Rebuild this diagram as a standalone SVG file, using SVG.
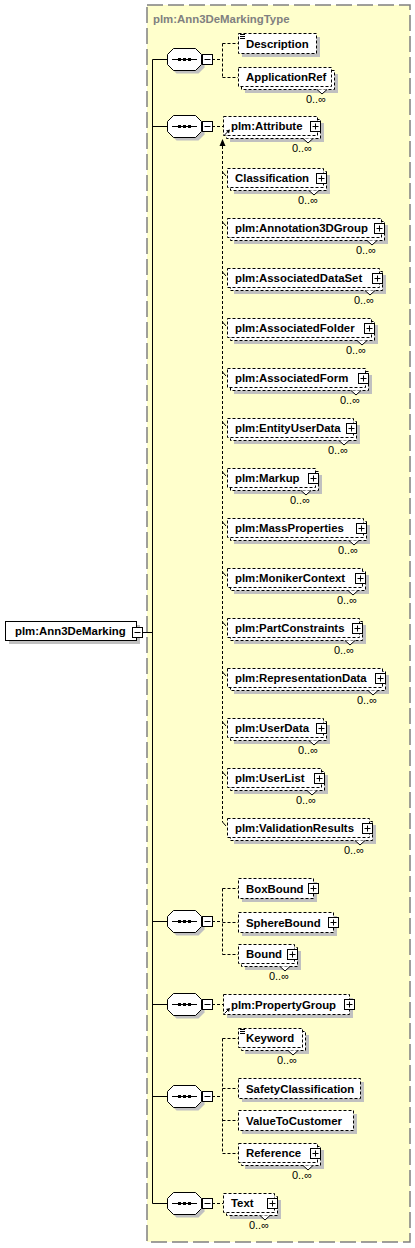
<svg xmlns="http://www.w3.org/2000/svg" xmlns:xlink="http://www.w3.org/1999/xlink" width="415" height="1248" viewBox="0 0 415 1248">
<style>
.typ{fill:#ffffcc;stroke:#808080;stroke-width:1.5;stroke-dasharray:16,5}
.tl{font-family:"Liberation Sans",Arial,sans-serif;font-weight:bold;font-size:11.4px;fill:#808080}
.sh{fill:#c0c0c0}
.bx{fill:#fff;stroke:#000;stroke-dasharray:3,2}
.rb{fill:#fff;stroke:#000}
.nt{fill:#fff;stroke:#000}
.lb{font-family:"Liberation Sans",Arial,sans-serif;font-weight:bold;font-size:11.4px;fill:#000}
.oc{font-family:"Liberation Sans",Arial,"DejaVu Sans",sans-serif;font-size:11px;fill:#000;text-anchor:end}
.ln{fill:none;stroke:#000}
.dl{fill:none;stroke:#000;stroke-dasharray:3,2}
</style>
<defs>
<g id="plus"><rect x="0.5" y="0.5" width="10" height="10" fill="#fff" stroke="#000"/><path d="M2.5 5.5H8.5M5.5 2.5V8.5" stroke="#000"/></g>
<g id="minus"><rect x="0.5" y="0.5" width="10" height="10" fill="#fff" stroke="#000"/><path d="M2.5 5.5H8.5" stroke="#000"/></g>
<g id="seq">
<path d="M9.5,-7.5 H31.5 L37.5,-1.5 V8.5 L31.5,14.5 H9.5 L3.5,8.5 V-1.5 Z" fill="#c0c0c0"/>
<path d="M6.5,-10.5 H28.5 L34.5,-4.5 V5.5 L28.5,11.5 H6.5 L0.5,5.5 V-4.5 Z" fill="#fff" stroke="#000"/>
<path d="M5,0.5 H30" stroke="#000"/>
<rect x="11" y="-1" width="3" height="3"/><rect x="16" y="-1" width="3" height="3"/><rect x="21" y="-1" width="3" height="3"/>
<use xlink:href="#minus" x="35" y="-5"/>
</g>
</defs>

<g id="type">
<rect class="typ" x="147" y="5" width="263" height="1237"/>
<text class="tl" x="153" y="23">plm:Ann3DeMarkingType</text>
</g>

<g id="connectors">
<path class="ln" d="M142,632.5 H152.5 M152.5,59.5 V1203.5 M152.5,59.5 H167 M152.5,126.5 H167 M152.5,921.5 H167 M152.5,1004.5 H167 M152.5,1096.5 H167 M152.5,1203.5 H167"/>
<path class="dl" d="M212,59.5 H222.5 M222.5,43.5 V77.5 M222.5,43.5 H238 M222.5,77.5 H238"/>
<path class="dl" d="M212,126.5 H223"/>
<path class="dl" d="M222.5,146 V822"/>
<polygon points="222.5,139 219.5,146 225.5,146"/>
<path class="ln" d="M222.5,172 L226,176 M222.5,222 L226,226 M222.5,272 L226,276 M222.5,322 L226,326 M222.5,372 L226,376 M222.5,422 L226,426 M222.5,472 L226,476 M222.5,522 L226,526 M222.5,572 L226,576 M222.5,622 L226,626 M222.5,672 L226,676 M222.5,722 L226,726 M222.5,772 L226,776 M222.5,822 L226,826"/>
<path class="dl" d="M212,921.5 H222.5 M222.5,888.5 V954.5 M222.5,888.5 H238 M222.5,922.5 H238 M222.5,954.5 H238"/>
<path class="dl" d="M212,1004.5 H223"/>
<path class="dl" d="M212,1096.5 H222.5 M222.5,1038.5 V1153.5 M222.5,1038.5 H238 M222.5,1088.5 H238 M222.5,1120.5 H238 M222.5,1153.5 H238"/>
<path class="dl" d="M212,1203.5 H223"/>
</g>

<g id="seq1"><use xlink:href="#seq" x="167" y="59"/></g>
<g id="seq2"><use xlink:href="#seq" x="167" y="126"/></g>
<g id="seq3"><use xlink:href="#seq" x="167" y="921"/></g>
<g id="seq4"><use xlink:href="#seq" x="167" y="1004"/></g>
<g id="seq5"><use xlink:href="#seq" x="167" y="1096"/></g>
<g id="seq6"><use xlink:href="#seq" x="167" y="1203"/></g>

<g id="root">
<rect class="sh" x="9" y="625" width="131" height="19"/>
<rect class="rb" x="5.5" y="621.5" width="131" height="19"/>
<text class="lb" x="15" y="635">plm:Ann3DeMarking</text>
<use xlink:href="#minus" x="132" y="627"/>
</g>

<g id="Description">
<rect class="sh" x="242" y="37" width="78" height="20"/>
<rect class="bx" x="238.5" y="33.5" width="78" height="20"/>
<path class="ln" d="M240,34.5h5M240,36.5h5M240,38.5h5"/>
<text class="lb" x="246" y="47.5">Description</text>
</g>

<g id="ApplicationRef">
<rect class="sh" x="245" y="74" width="93" height="19"/>
<rect class="bx" x="241.5" y="70.5" width="93" height="19"/>
<rect class="bx" x="238.5" y="67.5" width="93" height="19"/>
<path class="nt" d="M317,89.5 L322,94 L327,89.5"/>
<text class="lb" x="246" y="81">ApplicationRef</text>
<text class="oc" x="326" y="103">0..∞</text>
</g>

<g id="Attribute">
<rect class="sh" x="230" y="123" width="94" height="19"/>
<rect class="bx" x="226.5" y="119.5" width="94" height="19"/>
<rect class="bx" x="223.5" y="116.5" width="94" height="19"/>
<path class="nt" d="M303,138.5 L308,143 L313,138.5"/>
<text class="lb" x="231" y="130">plm:Attribute</text>
<use xlink:href="#plus" x="310" y="121"/>
<path class="ln" d="M224.5,135 L228.5,131"/><polygon points="230,129.5 226,130.5 229,133.5"/>
<text class="oc" x="312" y="152">0..∞</text>
</g>

<g id="Classification">
<rect class="sh" x="234" y="175" width="96" height="19"/>
<rect class="bx" x="230.5" y="171.5" width="96" height="19"/>
<rect class="bx" x="227.5" y="168.5" width="96" height="19"/>
<path class="nt" d="M309,190.5 L314,195 L319,190.5"/>
<text class="lb" x="235" y="182">Classification</text>
<use xlink:href="#plus" x="316" y="173"/>
<text class="oc" x="318" y="204">0..∞</text>
</g>

<g id="Annotation3DGroup">
<rect class="sh" x="234" y="225" width="154" height="19"/>
<rect class="bx" x="230.5" y="221.5" width="154" height="19"/>
<rect class="bx" x="227.5" y="218.5" width="154" height="19"/>
<path class="nt" d="M367,240.5 L372,245 L377,240.5"/>
<text class="lb" x="235" y="232">plm:Annotation3DGroup</text>
<use xlink:href="#plus" x="374" y="223"/>
<text class="oc" x="376" y="254">0..∞</text>
</g>

<g id="AssociatedDataSet">
<rect class="sh" x="234" y="275" width="152" height="19"/>
<rect class="bx" x="230.5" y="271.5" width="152" height="19"/>
<rect class="bx" x="227.5" y="268.5" width="152" height="19"/>
<path class="nt" d="M365,290.5 L370,295 L375,290.5"/>
<text class="lb" x="235" y="282">plm:AssociatedDataSet</text>
<use xlink:href="#plus" x="372" y="273"/>
<text class="oc" x="374" y="304">0..∞</text>
</g>

<g id="AssociatedFolder">
<rect class="sh" x="234" y="325" width="144" height="19"/>
<rect class="bx" x="230.5" y="321.5" width="144" height="19"/>
<rect class="bx" x="227.5" y="318.5" width="144" height="19"/>
<path class="nt" d="M357,340.5 L362,345 L367,340.5"/>
<text class="lb" x="235" y="332">plm:AssociatedFolder</text>
<use xlink:href="#plus" x="364" y="323"/>
<text class="oc" x="366" y="354">0..∞</text>
</g>

<g id="AssociatedForm">
<rect class="sh" x="234" y="375" width="138" height="19"/>
<rect class="bx" x="230.5" y="371.5" width="138" height="19"/>
<rect class="bx" x="227.5" y="368.5" width="138" height="19"/>
<path class="nt" d="M351,390.5 L356,395 L361,390.5"/>
<text class="lb" x="235" y="382">plm:AssociatedForm</text>
<use xlink:href="#plus" x="358" y="373"/>
<text class="oc" x="360" y="404">0..∞</text>
</g>

<g id="EntityUserData">
<rect class="sh" x="234" y="425" width="126" height="19"/>
<rect class="bx" x="230.5" y="421.5" width="126" height="19"/>
<rect class="bx" x="227.5" y="418.5" width="126" height="19"/>
<path class="nt" d="M339,440.5 L344,445 L349,440.5"/>
<text class="lb" x="235" y="432">plm:EntityUserData</text>
<use xlink:href="#plus" x="346" y="423"/>
<text class="oc" x="348" y="454">0..∞</text>
</g>

<g id="Markup">
<rect class="sh" x="234" y="475" width="88" height="19"/>
<rect class="bx" x="230.5" y="471.5" width="88" height="19"/>
<rect class="bx" x="227.5" y="468.5" width="88" height="19"/>
<path class="nt" d="M301,490.5 L306,495 L311,490.5"/>
<text class="lb" x="235" y="482">plm:Markup</text>
<use xlink:href="#plus" x="308" y="473"/>
<text class="oc" x="310" y="504">0..∞</text>
</g>

<g id="MassProperties">
<rect class="sh" x="234" y="525" width="136" height="19"/>
<rect class="bx" x="230.5" y="521.5" width="136" height="19"/>
<rect class="bx" x="227.5" y="518.5" width="136" height="19"/>
<path class="nt" d="M349,540.5 L354,545 L359,540.5"/>
<text class="lb" x="235" y="532">plm:MassProperties</text>
<use xlink:href="#plus" x="356" y="523"/>
<text class="oc" x="358" y="554">0..∞</text>
</g>

<g id="MonikerContext">
<rect class="sh" x="234" y="575" width="135" height="19"/>
<rect class="bx" x="230.5" y="571.5" width="135" height="19"/>
<rect class="bx" x="227.5" y="568.5" width="135" height="19"/>
<path class="nt" d="M348,590.5 L353,595 L358,590.5"/>
<text class="lb" x="235" y="582">plm:MonikerContext</text>
<use xlink:href="#plus" x="355" y="573"/>
<text class="oc" x="357" y="604">0..∞</text>
</g>

<g id="PartConstraints">
<rect class="sh" x="234" y="625" width="132" height="19"/>
<rect class="bx" x="230.5" y="621.5" width="132" height="19"/>
<rect class="bx" x="227.5" y="618.5" width="132" height="19"/>
<path class="nt" d="M345,640.5 L350,645 L355,640.5"/>
<text class="lb" x="235" y="632">plm:PartConstraints</text>
<use xlink:href="#plus" x="352" y="623"/>
<text class="oc" x="354" y="654">0..∞</text>
</g>

<g id="RepresentationData">
<rect class="sh" x="234" y="675" width="155" height="19"/>
<rect class="bx" x="230.5" y="671.5" width="155" height="19"/>
<rect class="bx" x="227.5" y="668.5" width="155" height="19"/>
<path class="nt" d="M368,690.5 L373,695 L378,690.5"/>
<text class="lb" x="235" y="682">plm:RepresentationData</text>
<use xlink:href="#plus" x="375" y="673"/>
<text class="oc" x="377" y="704">0..∞</text>
</g>

<g id="UserData">
<rect class="sh" x="234" y="725" width="96" height="19"/>
<rect class="bx" x="230.5" y="721.5" width="96" height="19"/>
<rect class="bx" x="227.5" y="718.5" width="96" height="19"/>
<path class="nt" d="M309,740.5 L314,745 L319,740.5"/>
<text class="lb" x="235" y="732">plm:UserData</text>
<use xlink:href="#plus" x="316" y="723"/>
<text class="oc" x="318" y="754">0..∞</text>
</g>

<g id="UserList">
<rect class="sh" x="234" y="775" width="94" height="19"/>
<rect class="bx" x="230.5" y="771.5" width="94" height="19"/>
<rect class="bx" x="227.5" y="768.5" width="94" height="19"/>
<path class="nt" d="M307,790.5 L312,795 L317,790.5"/>
<text class="lb" x="235" y="782">plm:UserList</text>
<use xlink:href="#plus" x="314" y="773"/>
<text class="oc" x="316" y="804">0..∞</text>
</g>

<g id="ValidationResults">
<rect class="sh" x="234" y="825" width="142" height="19"/>
<rect class="bx" x="230.5" y="821.5" width="142" height="19"/>
<rect class="bx" x="227.5" y="818.5" width="142" height="19"/>
<path class="nt" d="M355,840.5 L360,845 L365,840.5"/>
<text class="lb" x="235" y="832">plm:ValidationResults</text>
<use xlink:href="#plus" x="362" y="823"/>
<text class="oc" x="364" y="854">0..∞</text>
</g>

<g id="BoxBound">
<rect class="sh" x="242" y="882" width="75" height="20"/>
<rect class="bx" x="238.5" y="878.5" width="75" height="20"/>
<text class="lb" x="246" y="892.5">BoxBound</text>
<use xlink:href="#plus" x="308" y="883"/>
</g>

<g id="SphereBound">
<rect class="sh" x="242" y="916" width="95" height="20"/>
<rect class="bx" x="238.5" y="912.5" width="95" height="20"/>
<text class="lb" x="246" y="926.5">SphereBound</text>
<use xlink:href="#plus" x="328" y="917"/>
</g>

<g id="Bound">
<rect class="sh" x="245" y="951" width="56" height="19"/>
<rect class="bx" x="241.5" y="947.5" width="56" height="19"/>
<rect class="bx" x="238.5" y="944.5" width="56" height="19"/>
<path class="nt" d="M280,966.5 L285,971 L290,966.5"/>
<text class="lb" x="246" y="958">Bound</text>
<use xlink:href="#plus" x="287" y="949"/>
<text class="oc" x="289" y="980">0..∞</text>
</g>

<g id="PropertyGroup">
<rect class="sh" x="227" y="998" width="126" height="20"/>
<rect class="bx" x="223.5" y="994.5" width="126" height="20"/>
<text class="lb" x="231" y="1008.5">plm:PropertyGroup</text>
<use xlink:href="#plus" x="344" y="999"/>
<path class="ln" d="M224.5,1013.5 L228.5,1009.5"/><polygon points="230,1008 226,1009 229,1012"/>
</g>

<g id="Keyword">
<rect class="sh" x="245" y="1035" width="64" height="19"/>
<rect class="bx" x="241.5" y="1031.5" width="64" height="19"/>
<rect class="bx" x="238.5" y="1028.5" width="64" height="19"/>
<path class="nt" d="M288,1050.5 L293,1055 L298,1050.5"/>
<path class="ln" d="M240,1029.5h5M240,1031.5h5M240,1033.5h5"/>
<text class="lb" x="246" y="1042">Keyword</text>
<text class="oc" x="297" y="1064">0..∞</text>
</g>

<g id="SafetyClassification">
<rect class="sh" x="242" y="1082" width="122" height="20"/>
<rect class="bx" x="238.5" y="1078.5" width="122" height="20"/>
<text class="lb" x="246" y="1092.5">SafetyClassification</text>
</g>

<g id="ValueToCustomer">
<rect class="sh" x="242" y="1114" width="115" height="20"/>
<rect class="bx" x="238.5" y="1110.5" width="115" height="20"/>
<text class="lb" x="246" y="1124.5">ValueToCustomer</text>
</g>

<g id="Reference">
<rect class="sh" x="245" y="1150" width="79" height="19"/>
<rect class="bx" x="241.5" y="1146.5" width="79" height="19"/>
<rect class="bx" x="238.5" y="1143.5" width="79" height="19"/>
<path class="nt" d="M303,1165.5 L308,1170 L313,1165.5"/>
<text class="lb" x="246" y="1157">Reference</text>
<use xlink:href="#plus" x="310" y="1148"/>
<text class="oc" x="312" y="1179">0..∞</text>
</g>

<g id="Text">
<rect class="sh" x="230" y="1200" width="51" height="19"/>
<rect class="bx" x="226.5" y="1196.5" width="51" height="19"/>
<rect class="bx" x="223.5" y="1193.5" width="51" height="19"/>
<path class="nt" d="M260,1215.5 L265,1220 L270,1215.5"/>
<text class="lb" x="231" y="1207">Text</text>
<use xlink:href="#plus" x="267" y="1198"/>
<text class="oc" x="269" y="1229">0..∞</text>
</g>
</svg>
